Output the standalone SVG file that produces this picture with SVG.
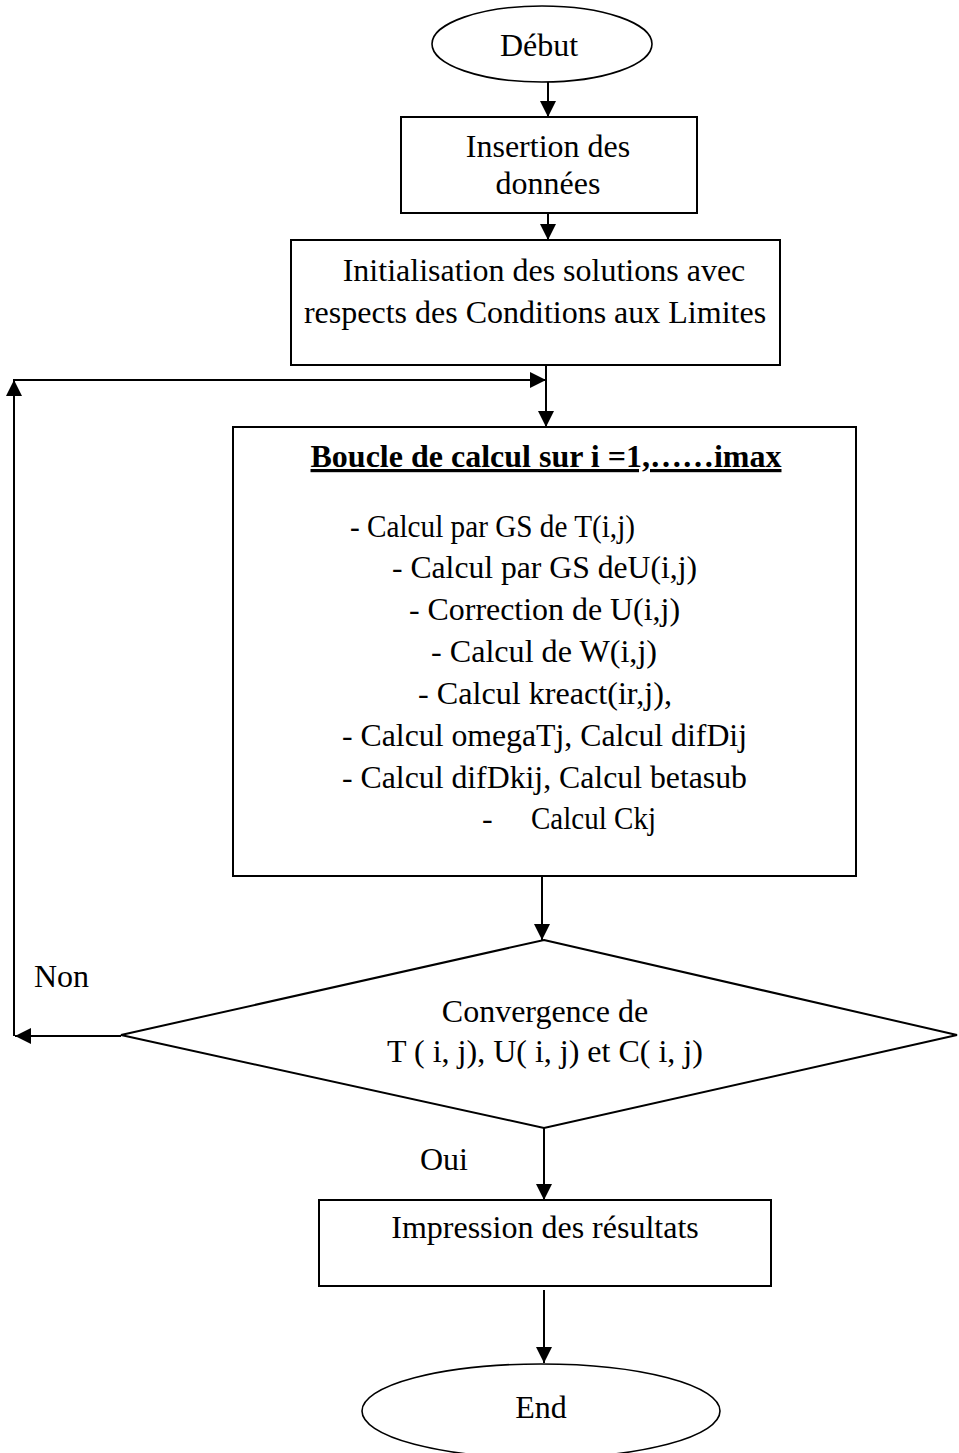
<svg xmlns="http://www.w3.org/2000/svg" width="959" height="1453" viewBox="0 0 959 1453">
<style>
  .shape { fill: #fff; stroke: #000; stroke-width: 2; }
  .term { fill: #fff; stroke: #000; stroke-width: 1.6; }
  .txt { font-family: "Liberation Serif", "Times New Roman", serif; font-size: 32px; fill: #000; }
  .mid { text-anchor: middle; }
  .bold { font-weight: bold; text-decoration: underline; }
  .edge { stroke: #000; stroke-width: 2; fill: none; }
</style>
<defs>
  <marker id="ah" viewBox="0 0 16 16" refX="16" refY="8" markerWidth="16" markerHeight="16" markerUnits="userSpaceOnUse" orient="auto">
    <path d="M0,0 L16,8 L0,16 Z" fill="#000"/>
  </marker>
</defs>
<rect width="959" height="1453" fill="#fff"/>

<g id="debut">
  <ellipse class="term" cx="542" cy="44" rx="110" ry="38"/>
  <text class="txt mid" x="539" y="56">Début</text>
</g>

<g id="insertion">
  <rect class="shape" x="401" y="117" width="296" height="96"/>
  <text class="txt mid" x="548" y="157">Insertion des</text>
  <text class="txt mid" x="548" y="194">données</text>
</g>

<g id="initialisation">
  <rect class="shape" x="291" y="240" width="489" height="125"/>
  <text class="txt mid" x="544" y="281">Initialisation des solutions avec</text>
  <text class="txt mid" x="535" y="323">respects des Conditions aux Limites</text>
</g>

<g id="boucle">
  <rect class="shape" x="233" y="427" width="623" height="449"/>
  <text class="txt mid bold" x="546" y="467">Boucle de calcul sur i =1,……imax</text>
  <text class="txt" x="350" y="537" font-size="31" textLength="285" lengthAdjust="spacingAndGlyphs">- Calcul par GS de T(i,j)</text>
  <text class="txt" x="392" y="578" textLength="305" lengthAdjust="spacingAndGlyphs">- Calcul par GS deU(i,j)</text>
  <text class="txt" x="409" y="620" textLength="271" lengthAdjust="spacingAndGlyphs">- Correction de U(i,j)</text>
  <text class="txt" x="431" y="662" textLength="226" lengthAdjust="spacingAndGlyphs">- Calcul de W(i,j)</text>
  <text class="txt" x="418" y="704" textLength="254" lengthAdjust="spacingAndGlyphs">- Calcul kreact(ir,j),</text>
  <text class="txt" x="342" y="746" textLength="405" lengthAdjust="spacingAndGlyphs">- Calcul omegaTj, Calcul difDij</text>
  <text class="txt" x="342" y="788" textLength="405" lengthAdjust="spacingAndGlyphs">- Calcul difDkij, Calcul betasub</text>
  <text class="txt" x="482" y="829">-</text>
  <text class="txt" x="531" y="829" textLength="125" lengthAdjust="spacingAndGlyphs">Calcul Ckj</text>
</g>

<g id="convergence">
  <polygon class="shape" points="544,940 957,1035 544,1128 121,1035"/>
  <text class="txt mid" x="545" y="1022">Convergence de</text>
  <text class="txt mid" x="545" y="1062">T ( i, j), U( i, j) et C( i, j)</text>
</g>

<g id="impression">
  <rect class="shape" x="319" y="1200" width="452" height="86"/>
  <text class="txt mid" x="545" y="1238">Impression des résultats</text>
</g>

<g id="end">
  <ellipse class="term" cx="541" cy="1411" rx="179" ry="47"/>
  <text class="txt mid" x="541" y="1418">End</text>
</g>

<g id="labels">
  <text class="txt" x="34" y="987">Non</text>
  <text class="txt" x="420" y="1170">Oui</text>
</g>

<g id="connectors">
  <line class="edge" x1="548" y1="82" x2="548" y2="117" marker-end="url(#ah)"/>
  <line class="edge" x1="548" y1="213" x2="548" y2="240" marker-end="url(#ah)"/>
  <line class="edge" x1="546" y1="365" x2="546" y2="427" marker-end="url(#ah)"/>
  <line class="edge" x1="542" y1="876" x2="542" y2="940" marker-end="url(#ah)"/>
  <line class="edge" x1="121" y1="1036" x2="15" y2="1036" stroke-width="3" marker-end="url(#ah)"/>
  <line class="edge" x1="14" y1="1036" x2="14" y2="380" marker-end="url(#ah)"/>
  <line class="edge" x1="13" y1="380" x2="546" y2="380" marker-end="url(#ah)"/>
  <line class="edge" x1="544" y1="1128" x2="544" y2="1200" marker-end="url(#ah)"/>
  <line class="edge" x1="544" y1="1290" x2="544" y2="1363" marker-end="url(#ah)"/>
</g>
</svg>
